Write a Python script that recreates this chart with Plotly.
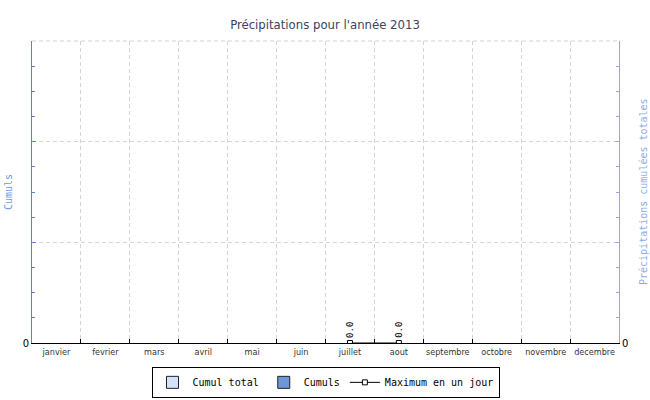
import plotly.graph_objects as go

months = ["janvier", "fevrier", "mars", "avril", "mai", "juin", "juillet",
          "aout", "septembre", "octobre", "novembre", "decembre"]
cumul_total = [0, 0, 0, 0, 0, 0, 0, 0, 0, 0, 0, 0]
cumuls = [0, 0, 0, 0, 0, 0, 0, 0, 0, 0, 0, 0]
max_jour = [None, None, None, None, None, None, 0.0, 0.0, None, None, None, None]

mono = "DejaVu Sans Mono"
cond = "DejaVu Sans Condensed"
c_total = "#d3e2f8"
c_cumuls = "#6f96d8"
PW = 587.0

fig = go.Figure()
fig.add_trace(go.Bar(x=months, y=cumul_total, name="Cumul total", showlegend=False,
                     marker=dict(color=c_total, line=dict(width=0)), yaxis="y2"))
fig.add_trace(go.Bar(x=months, y=cumuls, name="Cumuls", showlegend=False,
                     marker=dict(color=c_cumuls, line=dict(width=0))))
fig.add_trace(go.Bar(x=[None], y=[None], name="Cumul total",
                     marker=dict(color=c_total, line=dict(color="#222", width=1))))
fig.add_trace(go.Bar(x=[None], y=[None], name="Cumuls",
                     marker=dict(color=c_cumuls, line=dict(color="#222", width=1))))
fig.add_trace(go.Scatter(x=months, y=max_jour, name="Maximum en un jour",
                         mode="lines+markers",
                         line=dict(color="#000", width=1),
                         marker=dict(symbol="square", size=5, color="#fff",
                                     line=dict(color="#000", width=1))))

annotations = []
for m, v in zip(months, max_jour):
    if v is not None:
        annotations.append(dict(x=m, y=v, xref="x", yref="y", text=f"{v:.1f}",
                                textangle=-90, showarrow=False,
                                font=dict(family=mono, size=9, color="#000"),
                                yanchor="bottom", yshift=3))

annotations.append(dict(x=(8 - 32) / PW, y=0.5, xref="paper", yref="paper",
                        xanchor="center", yanchor="middle", showarrow=False,
                        text="Cumuls", textangle=-90,
                        font=dict(family=mono, size=10, color="#6b9be6")))
annotations.append(dict(x=(643 - 32) / PW, y=0.5, xref="paper", yref="paper",
                        xanchor="center", yanchor="middle", showarrow=False,
                        text="Précipitations cumulées totales", textangle=-90,
                        font=dict(family=mono, size=10, color="#88aef0")))

fig.update_layout(
    width=650, height=400,
    margin=dict(l=32, r=31, t=41, b=57, autoexpand=False),
    paper_bgcolor="#fff", plot_bgcolor="#fff",
    barmode="group",
    title=dict(text="Précipitations pour l'année 2013", x=0.5, xanchor="center",
               y=1 - 24 / 400, yanchor="middle", yref="container",
               font=dict(family=cond, size=13, color="#3c4361")),
    showlegend=True,
    legend=dict(orientation="h", x=0.5, xanchor="center", y=-0.079, yanchor="top",
                bordercolor="#000", borderwidth=1, bgcolor="#fff",
                font=dict(family=mono, size=10, color="#000"),
                itemwidth=30, tracegroupgap=0),
    annotations=annotations,
    shapes=[dict(type="line", xref="paper", yref="paper", x0=0, x1=1, y0=1, y1=1,
                 line=dict(color="#d4d4d4", width=1, dash="4px,3px"), layer="below")],
    xaxis=dict(type="category", range=[-0.5, 11.5], tickson="boundaries",
               ticks="inside", ticklen=4, tickangle=0, automargin=False,
               tickcolor="#000", showline=True, linecolor="#000", linewidth=1,
               showgrid=True, gridcolor="#d4d4d4", griddash="4px,3px",
               tickfont=dict(family=cond, size=9, color="#333"),
               zeroline=False),
    yaxis=dict(range=[0, 3], tickvals=[0, 1, 2, 3], ticktext=["0", "", "", ""],
               ticks="inside", ticklen=4, tickcolor="#5b82cc", automargin=False,
               showline=True, linecolor="#5b82cc", linewidth=1,
               showgrid=True, gridcolor="#d4d4d4", griddash="4px,3px",
               zeroline=False,
               minor=dict(dtick=0.25, tick0=0, ticks="inside", ticklen=3,
                          tickcolor="#5b82cc", showgrid=False),
               tickfont=dict(family="DejaVu Sans", size=10, color="#000")),
    yaxis2=dict(range=[0, 3], overlaying="y", side="right", automargin=False,
                tickvals=[0, 1, 2, 3], ticktext=["0", "", "", ""],
                ticks="inside", ticklen=4, tickcolor="#88aef0",
                showline=True, linecolor="#88aef0", linewidth=1,
                showgrid=False, zeroline=False,
                minor=dict(dtick=0.25, tick0=0, ticks="inside", ticklen=3,
                           tickcolor="#88aef0", showgrid=False),
                tickfont=dict(family="DejaVu Sans", size=10, color="#000")),
)

fig.write_html("out.html", config={"displayModeBar": False},
               post_script="document.body.style.margin='0';document.body.style.padding='0';")
